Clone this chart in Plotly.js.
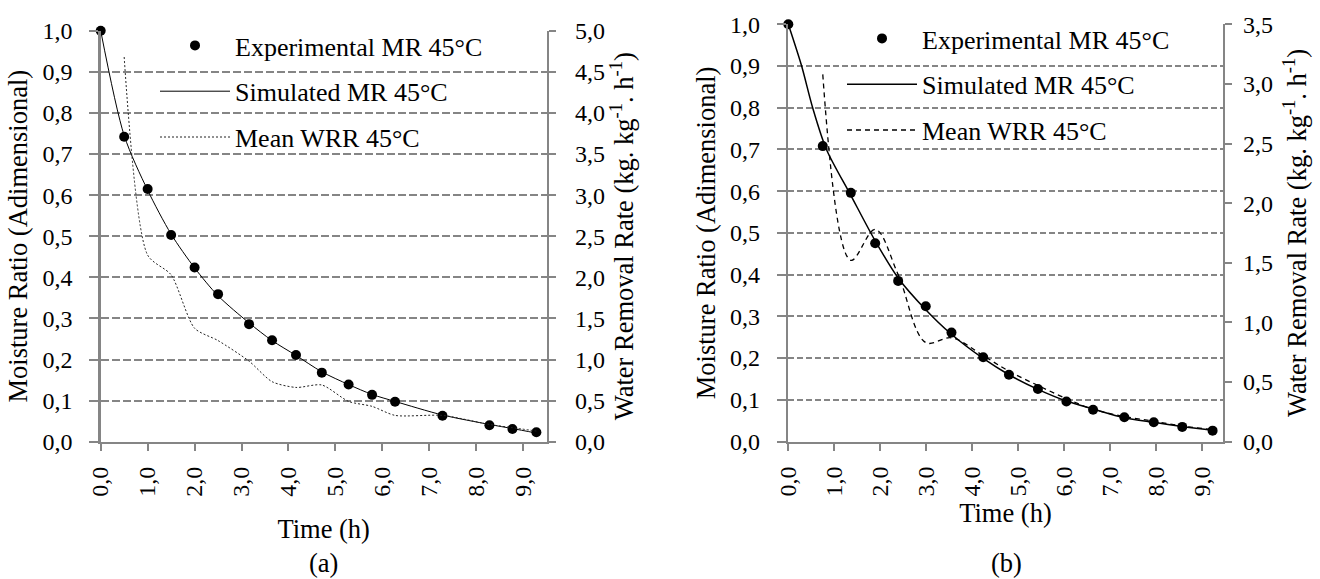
<!DOCTYPE html>
<html><head><meta charset="utf-8">
<script src="https://cdn.plot.ly/plotly-3.0.1.min.js"></script>
<style>html,body{margin:0;padding:0;background:#fff}</style>
</head><body><div id="chart" style="width:1320px;height:579px"></div>
<script>
// ---- Data (a) ----
const timeA = [0, 0.5, 1.0, 1.5, 2.0, 2.5, 3.16, 3.65, 4.16, 4.71, 5.28, 5.78, 6.27, 7.28, 8.28, 8.77, 9.28];
const mrExpA = [1.000, 0.742, 0.615, 0.503, 0.424, 0.359, 0.286, 0.247, 0.211, 0.168, 0.139, 0.114, 0.097, 0.063, 0.040, 0.031, 0.023];
const simTimeA = [0, 0.5, 1.0, 1.5, 2.0, 2.5, 3.16, 3.65, 4.16, 4.71, 5.28, 5.78, 6.27, 7.28, 8.28, 8.77, 9.28];
const mrSimA = [1.000, 0.745, 0.612, 0.505, 0.423, 0.355, 0.289, 0.246, 0.210, 0.170, 0.139, 0.115, 0.098, 0.065, 0.042, 0.032, 0.021];
const wrrTimeA = [0.5, 1.0, 1.5, 2.0, 2.5, 3.16, 3.65, 4.16, 4.71, 5.28, 5.78, 6.27, 7.28, 8.28, 8.77, 9.28];
const wrrA = [4.68, 2.27, 2.03, 1.38, 1.23, 0.98, 0.73, 0.66, 0.69, 0.49, 0.43, 0.32, 0.32, 0.21, 0.17, 0.13];

// ---- Data (b) ----
const timeB = [0, 0.75, 1.36, 1.89, 2.39, 2.99, 3.55, 4.24, 4.80, 5.43, 6.05, 6.63, 7.31, 7.95, 8.57, 9.23];
const mrExpB = [1.000, 0.708, 0.596, 0.475, 0.385, 0.324, 0.261, 0.202, 0.160, 0.126, 0.096, 0.076, 0.058, 0.046, 0.035, 0.026];
const simTimeB = [0, 0.29, 0.53, 0.83, 1.36, 1.89, 2.39, 2.99, 3.55, 4.24, 4.80, 5.43, 6.05, 6.63, 7.31, 7.95, 8.57, 9.23];
const mrSimB = [1.000, 0.900, 0.800, 0.700, 0.590, 0.481, 0.392, 0.316, 0.257, 0.199, 0.160, 0.125, 0.097, 0.078, 0.057, 0.046, 0.036, 0.027];
const wrrTimeB = [0.75, 1.36, 1.89, 2.39, 2.99, 3.55, 4.24, 4.80, 5.43, 6.05, 6.63, 7.31, 7.95, 8.57, 9.23];
const wrrB = [3.08, 1.52, 1.78, 1.40, 0.83, 0.87, 0.72, 0.59, 0.47, 0.36, 0.27, 0.21, 0.17, 0.13, 0.10];

const names = ['Experimental MR 45°C', 'Simulated MR 45°C', 'Mean WRR 45°C'];
const panelLabels = ['(a)', '(b)'];
const xTitle = 'Time (h)';
const yTitle = 'Moisture Ratio (Adimensional)';
const y2Title = 'Water Removal Rate (kg. kg<sup>-1</sup>. h<sup>-1</sup>)';

const W = 1320, H = 579;
const px = v => v / W, py = v => 1 - v / H;
const GRAY = '#858585';
const FONT = '"Liberation Serif", "Times New Roman", serif';
const TICKF = {family: FONT, size: 24, color: '#000'};
const TITLEF = {family: FONT, size: 26.5, color: '#000'};

const traces = [
  {x: timeA, y: mrExpA, xaxis: 'x', yaxis: 'y', mode: 'markers', name: names[0], legend: 'legend', legendgroup: 'a1',
   marker: {color: '#000', size: 10}, cliponaxis: false},
  {x: simTimeA, y: mrSimA, xaxis: 'x', yaxis: 'y', mode: 'lines', name: names[1], legend: 'legend', legendgroup: 'a2',
   line: {color: '#000', width: 1, shape: 'spline', smoothing: 0.8}},
  {x: wrrTimeA, y: wrrA, xaxis: 'x', yaxis: 'y2', mode: 'lines', name: names[2], legend: 'legend', legendgroup: 'a3',
   line: {color: '#222', width: 1, dash: '2px,2px', shape: 'spline', smoothing: 0.7}},
  {x: timeB, y: mrExpB, xaxis: 'x2', yaxis: 'y3', mode: 'markers', name: names[0], legend: 'legend2', legendgroup: 'b1',
   marker: {color: '#000', size: 10}, cliponaxis: false},
  {x: simTimeB, y: mrSimB, xaxis: 'x2', yaxis: 'y3', mode: 'lines', name: names[1], legend: 'legend2', legendgroup: 'b2',
   line: {color: '#000', width: 1.5, shape: 'spline', smoothing: 0.8}},
  {x: wrrTimeB, y: wrrB, xaxis: 'x2', yaxis: 'y4', mode: 'lines', name: names[2], legend: 'legend2', legendgroup: 'b3',
   line: {color: '#000', width: 1.3, dash: '5px,4px', shape: 'spline', smoothing: 1}}
];

function xAx(dom, anchor, rng, standoff) {
  return {domain: dom, anchor: anchor, range: rng, tick0: 0, dtick: 1, tickformat: '.1f', tickangle: -90,
    ticks: 'outside', ticklen: 7, tickwidth: 2, tickcolor: GRAY, ticklabelstandoff: 6,
    showline: true, linecolor: GRAY, linewidth: 2.5, showgrid: false, zeroline: false, tickfont: TICKF,
    title: {text: xTitle, font: TITLEF, standoff: standoff}, fixedrange: true};
}
function yAx(dom, anchor, griddash, standoff) {
  return {domain: dom, anchor: anchor, range: [0, 1], tick0: 0, dtick: 0.1, tickformat: '.1f',
    ticks: 'outside', ticklen: 9, tickwidth: 2, tickcolor: GRAY, ticklabelstandoff: 12,
    showline: true, linecolor: GRAY, linewidth: 2.5, showgrid: true, gridcolor: GRAY, gridwidth: 2, griddash: griddash,
    zeroline: false, tickfont: TICKF, title: {text: yTitle, font: TITLEF, standoff: standoff}, fixedrange: true};
}
function y2Ax(over, anchor, rng, standoff, labStand) {
  return {overlaying: over, anchor: anchor, side: 'right', range: rng, tick0: 0, dtick: 0.5, tickformat: '.1f',
    ticks: 'outside', ticklen: 7, tickwidth: 2, tickcolor: GRAY, ticklabelstandoff: labStand,
    showline: true, linecolor: GRAY, linewidth: 2.5, showgrid: false, zeroline: false, tickfont: TICKF,
    title: {text: y2Title, font: TITLEF, standoff: standoff}, fixedrange: true};
}

const legendBase = {bgcolor: 'rgba(0,0,0,0)', borderwidth: 0, font: {family: FONT, size: 26, color: '#000'},
  itemwidth: 70, tracegroupgap: 9, xanchor: 'left', yanchor: 'top', itemclick: false, itemdoubleclick: false};

const layout = {
  width: W, height: H, margin: {l: 0, r: 0, t: 0, b: 0},
  paper_bgcolor: '#fff', plot_bgcolor: 'rgba(0,0,0,0)',
  separators: ', ', font: {family: FONT, color: '#000'},
  xaxis: xAx([px(100.7), px(546.7)], 'y', [0, 9.5], 24),
  yaxis: yAx([py(441.7), py(30.7)], 'x', '8px,3px', 7),
  yaxis2: y2Ax('y', 'x', [0, 5], 6, 14),
  xaxis2: xAx([px(788.3), px(1222.7)], 'y3', [0, 9.45], 8),
  yaxis3: yAx([py(441.5), py(24.3)], 'x2', '6px,3px', 7),
  yaxis4: y2Ax('y3', 'x2', [0, 3.5], 16, 6),
  legend: Object.assign({}, legendBase, {x: px(155), y: py(22)}),
  legend2: Object.assign({}, legendBase, {x: px(842), y: py(15)}),
  annotations: [
    {text: panelLabels[0], x: px(323.7), y: py(563), xref: 'paper', yref: 'paper', xanchor: 'center', yanchor: 'middle', showarrow: false, font: TITLEF},
    {text: panelLabels[1], x: px(1006), y: py(563), xref: 'paper', yref: 'paper', xanchor: 'center', yanchor: 'middle', showarrow: false, font: TITLEF}
  ]
};

Plotly.newPlot('chart', traces, layout, {displayModeBar: false, staticPlot: true});
</script>
</body></html>
